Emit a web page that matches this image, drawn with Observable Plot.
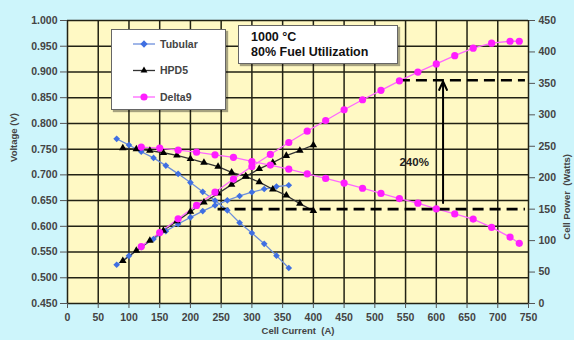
<!DOCTYPE html>
<html><head><meta charset="utf-8">
<script src="https://cdn.jsdelivr.net/npm/d3@7"></script>
<script src="https://cdn.jsdelivr.net/npm/@observablehq/plot@0.6"></script>
<style>
body{margin:0;background:#cdf5fb;font-family:"Liberation Sans",Arial,sans-serif;}
#wrap{position:relative;width:574px;height:340px;background:#cdf5fb;overflow:hidden;}
.box{position:absolute;background:#fff;border:1px solid #666;box-shadow:2px 2px 1px rgba(0,0,0,0.35);}
#title{left:238px;top:25px;width:158px;height:37px;font-weight:bold;font-size:12.5px;color:#111;line-height:15px;padding:0;}
#title div{position:absolute;left:12px;}
#legend{left:111px;top:29px;width:113px;height:79px;}
svg text{font-family:"Liberation Sans",Arial,sans-serif;}
</style></head>
<body>
<div id="wrap"></div>
<script>
// ---- data ----
const tubularI = [80,100,120,140,160,180,200,220,240,260,280,300,320,340,360];
const tubularV = [0.770,0.758,0.745,0.733,0.718,0.702,0.685,0.667,0.650,0.631,0.607,0.587,0.566,0.543,0.519];
const tubularP = [61.6,75.8,89.4,102.6,115,126.4,137,147,156,164,171,177,182,186,188];

const hpd5I = [90,112,134,156,178,200,222,245,267,290,312,334,356,378,400];
const hpd5V = [0.752,0.750,0.747,0.743,0.738,0.731,0.724,0.716,0.705,0.697,0.686,0.672,0.660,0.644,0.630];
const hpd5P = [67.7,84,100,116,131,146,161,175,189,202,214,224,235,243,252];

const delta9I = [120,150,180,210,240,270,300,330,360,390,420,450,480,510,540,570,600,630,660,690,720,735];
const delta9V = [0.754,0.752,0.748,0.744,0.739,0.734,0.726,0.719,0.711,0.702,0.693,0.684,0.674,0.664,0.654,0.645,0.634,0.624,0.614,0.598,0.579,0.567];
const delta9P = [90.5,112.8,134.6,156,177,198,218,237,256,274,291,308,324,339,354,368,381,394,406,414,417,417];

const seriesNames = ["Tubular","HPD5","Delta9"];
const xTicks = d3.range(0, 751, 50);
const voltTicks = [0.45,0.5,0.55,0.6,0.65,0.7,0.75,0.8,0.85,0.9,0.95,1.0];
const powerTicks = [0,50,100,150,200,250,300,350,400,450];

// reference lines (power, W) and spans (A)
const dashPower = [150, 355];
const dashFrom = [245, 540];
const dashTo = [745, 745];
const arrowI = [611];
const arrowFromP = [160];
const arrowToP = [353];
const noteText = ["240%"];
const noteI = [564];
const notePower = [225];

// ---- styles ----
const markColor = {Tubular:"#3f6fe2", HPD5:"#000000", Delta9:"#ff1eff"};
const lineColor = {Tubular:"#6c8fdc", HPD5:"#333333", Delta9:"#ff66ff"};
const symbol = {Tubular:"diamond2", HPD5:"triangle2", Delta9:"circle"};
const symR = {Tubular:3, HPD5:3.6, Delta9:3.6};

// power -> voltage-axis position
const pMax = 450, vMin = 0.45, vMax = 1.0;
const toV = p => vMin + p * (vMax - vMin) / pMax;
const toP = v => (v - vMin) * pMax / (vMax - vMin);

const rows = [];
const add = (name, I, Y, kind) => I.forEach((x, i) => rows.push({name, kind, x, y: kind === "V" ? Y[i] : toV(Y[i])}));
add("Tubular", tubularI, tubularV, "V"); add("Tubular", tubularI, tubularP, "P");
add("HPD5", hpd5I, hpd5V, "V"); add("HPD5", hpd5I, hpd5P, "P");
add("Delta9", delta9I, delta9V, "V"); add("Delta9", delta9I, delta9P, "P");

const dashes = dashPower.map((p, i) => ({y: toV(p), x1: dashFrom[i], x2: dashTo[i]}));

const marks = [
  Plot.frame({fill:"#fff9c4", stroke:null}),
  Plot.gridX(xTicks, {stroke:"#222214", strokeOpacity:1, strokeWidth:1.5}),
  Plot.gridY(voltTicks, {stroke:"#222214", strokeOpacity:1, strokeWidth:1.5}),
  Plot.axisY({anchor:"left", ticks: voltTicks, tickFormat: d3.format(".3f"), tickSize:7, tickPadding:3, label:null, fontSize:10.5, fontWeight:"bold", fill:"#444", stroke:"#555"}),
  Plot.axisY({anchor:"right", ticks: powerTicks.map(toV), tickFormat: v => String(Math.round(toP(v))), tickSize:6, tickPadding:4, label:null, fontSize:10.5, fontWeight:"bold", fill:"#444", stroke:"#555"}),
  Plot.axisX({ticks: xTicks, tickSize:5, tickPadding:5, label:null, fontSize:10.5, fontWeight:"bold", fill:"#444", stroke:"#555"}),
];
for (const name of seriesNames) {
  for (const kind of ["V","P"]) {
    const d = rows.filter(r => r.name === name && r.kind === kind);
    marks.push(Plot.line(d, {x:"x", y:"y", stroke: lineColor[name], strokeWidth:1.3}));
  }
}
marks.push(
  Plot.ruleY(dashes, {y:"y", x1:"x1", x2:"x2", stroke:"#000", strokeWidth:2.6, strokeDasharray:"11,6"})
);
for (const name of seriesNames) {
  const d = rows.filter(r => r.name === name);
  marks.push(Plot.dot(d, {x:"x", y:"y", symbol: () => symbol[name], r: symR[name], fill: markColor[name], stroke:"none"}));
}
marks.push(
  Plot.arrow(arrowI.map((x, i) => ({x, y1: toV(arrowFromP[i]), y2: toV(arrowToP[i])})), {x1:"x", x2:"x", y1:"y1", y2:"y2", stroke:"#000", strokeWidth:2, headLength:7, headAngle:50}),
  Plot.text(noteText.map((t, i) => ({t, x: noteI[i], y: toV(notePower[i])})), {x:"x", y:"y", text:"t", fontSize:11.5, fontWeight:"bold", fill:"#222"}),
  Plot.text(["Voltage (V)"], {frameAnchor:"left", dx:-54, rotate:-90, fontSize:9.5, fontWeight:"bold", fill:"#444"}),
  Plot.text(["Cell Power  (Watts)"], {frameAnchor:"right", dx:38, dy:-8, rotate:-90, fontSize:9.5, fontWeight:"bold", fill:"#444"}),
  Plot.text(["Cell Current  (A)"], {frameAnchor:"bottom", dy:30, fontSize:9.5, fontWeight:"bold", fill:"#444"})
);

const chart = Plot.plot({
  width:574, height:340,
  marginLeft:67, marginRight:46, marginTop:20, marginBottom:37,
  x:{domain:[0,750]},
  y:{domain:[vMin,vMax]},
  style:{background:"transparent", overflow:"visible"},
  marks
});
const wrap = document.getElementById("wrap");
wrap.appendChild(chart);

// title box
const title = document.createElement("div");
title.className = "box"; title.id = "title";
title.innerHTML = '<div style="top:4px">1000 °C</div><div style="top:19px">80% Fuel Utilization</div>';
wrap.appendChild(title);

// legend box
const legend = document.createElement("div");
legend.className = "box"; legend.id = "legend";
const ls = d3.create("svg").attr("width",113).attr("height",79);
seriesNames.forEach((name, i) => {
  const y = 14 + i * 26.5;
  ls.append("line").attr("x1",21).attr("x2",43).attr("y1",y).attr("y2",y).attr("stroke",lineColor[name]).attr("stroke-width",1.3);
  ls.append("path").attr("transform",`translate(32,${y})`).attr("d", d3.symbol(name==="Tubular"?d3.symbolDiamond2:name==="HPD5"?d3.symbolTriangle2:d3.symbolCircle, name==="Delta9"?40:34)()).attr("fill",markColor[name]);
  ls.append("text").attr("x",48).attr("y",y+3.5).attr("font-size",10.5).attr("font-weight","bold").attr("fill","#444").text(name);
});
legend.appendChild(ls.node());
wrap.appendChild(legend);
</script>
</body></html>
